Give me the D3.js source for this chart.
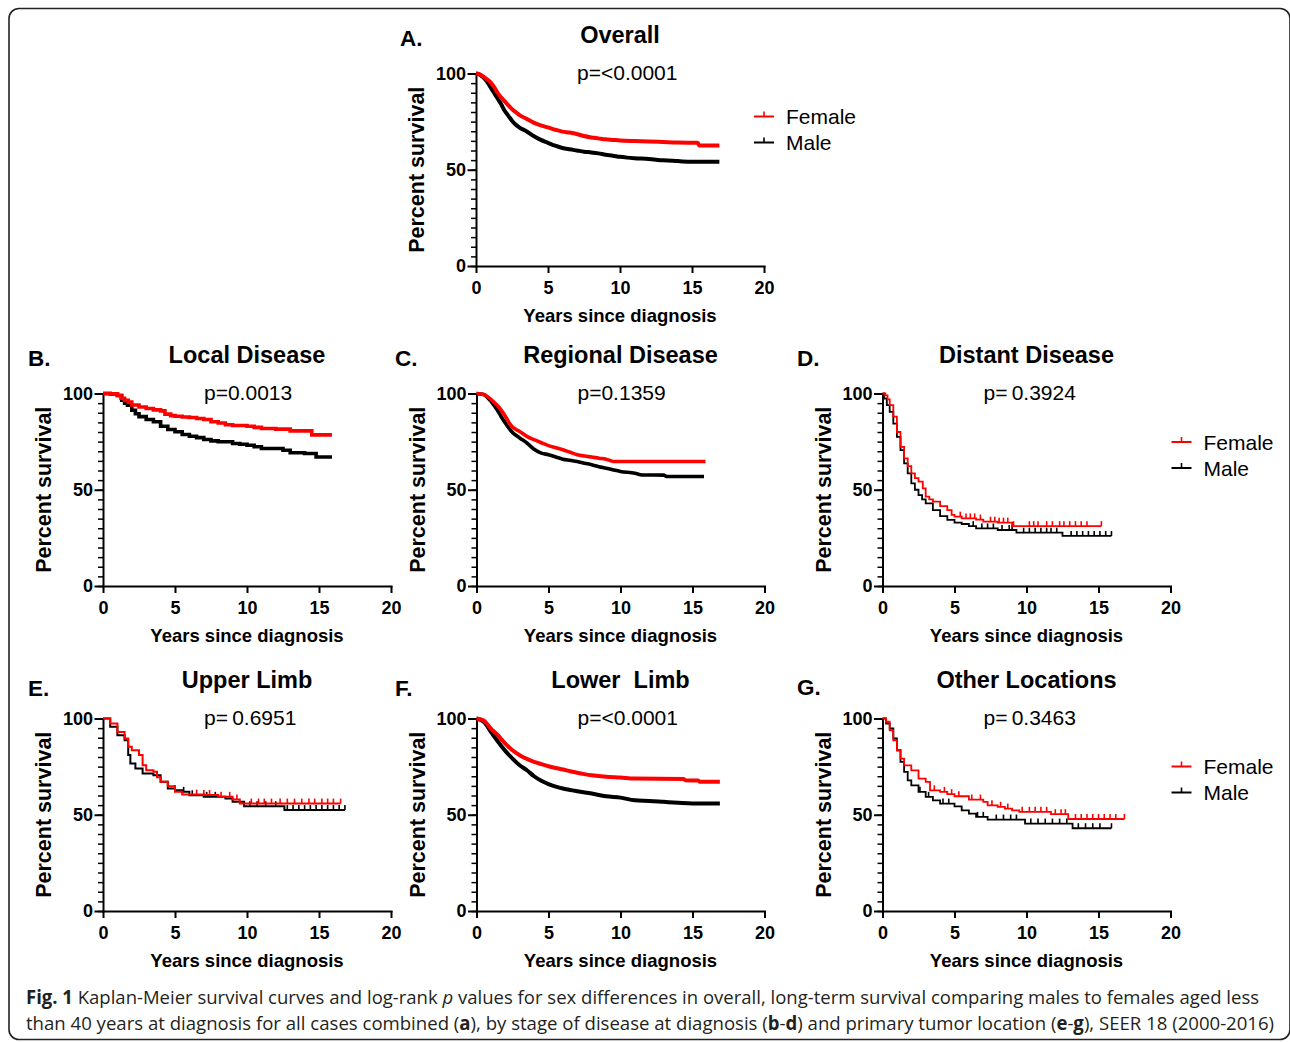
<!DOCTYPE html>
<meta charset="utf-8">
<style>
body{ margin:0; background:#fff; }
svg{ display:block; font-family:"Liberation Sans", Arial, Helvetica, sans-serif; }
.axis path, .axis line{ stroke:#000; stroke-width:2; }
.axis path{ stroke-linecap:square; }
.axis text{ font-weight:bold; font-size:18px; fill:#000; font-family:"Liberation Sans", Arial, sans-serif; }
.minor line{ stroke-width:1.5; }
</style>
<svg id="fig" width="1290" height="1042"></svg>
<script src="https://cdn.jsdelivr.net/npm/d3@7"></script>
<script>
var panelLetters = ['A.', 'B.', 'C.', 'D.', 'E.', 'F.', 'G.']
var panelTitles = ['Overall', 'Local Disease', 'Regional Disease', 'Distant Disease', 'Upper Limb', 'Lower  Limb', 'Other Locations']
var pValues = ['p=<0.0001', 'p=0.0013', 'p=0.1359', 'p=\u20090.3924', 'p=\u20090.6951', 'p=<0.0001', 'p=\u20090.3463']
var seriesNames = ['Female', 'Male']
var xTicks = [0, 5, 10, 15, 20]
var yTicks = [0, 50, 100]

// survival estimates: [years since diagnosis, percent surviving]
var overallFemale = [[0,100],[0.25,99.5],[0.5,98.5],[0.75,97],[1,95.5],[1.25,93],[1.5,90],[1.75,87.5],[2,85.5],[2.25,83.5],[2.5,81.5],[2.75,80],[3,78.5],[3.5,76.5],[4,74.5],[4.5,73],[5,72],[5.5,70.8],[6,69.8],[6.5,69.3],[7,68.6],[7.5,67.5],[8,66.8],[8.5,66.3],[9,65.8],[9.5,65.5],[10,65.2],[11,64.9],[12,64.7],[13,64.4],[14,64.1],[15.4,64],[15.5,62.6],[16.9,62.6]]
var overallMale = [[0,100],[0.25,99.5],[0.5,98],[0.75,96],[1,93],[1.25,90],[1.5,87],[1.75,84],[2,80.5],[2.25,78],[2.5,75.5],[2.75,73.5],[3,72],[3.5,70],[4,67.5],[4.5,65.5],[5,64],[5.5,62.5],[6,61.3],[6.5,60.6],[7,60],[7.5,59.4],[8,59],[8.5,58.5],[9,57.8],[9.5,57.3],[10,56.7],[10.5,56.3],[11,56],[12,55.6],[13,54.9],[14,54.5],[15,54.1],[16.9,54.1]]

var localFemale = [[0,100],[0.5,99.8],[1,99],[1.25,97.5],[1.5,96.5],[1.75,95.5],[2,94],[2.5,93],[3,92.2],[3.5,91.5],[4,91],[4.3,89.3],[4.7,88.5],[5,88.2],[5.5,87.8],[6,87.5],[6.5,87],[7,86.5],[7.5,85.3],[8,84.7],[8.5,83.8],[9,83.4],[10,83],[10.5,82.4],[11,81.8],[12,81.5],[13,80.6],[14.5,78.5],[15.9,78.5]]
var localMale = [[0,100],[0.5,99.8],[1,99],[1.3,96.5],[1.5,95],[1.7,93.9],[2,91.3],[2.25,89.5],[2.5,88],[3,86.5],[3.5,85.3],[4,83],[4.5,81.3],[5,80.1],[5.5,78.7],[6,77.8],[6.5,77.1],[7,76.1],[7.5,75.4],[8,74.9],[9,74],[9.5,73.6],[10,73.1],[10.5,72.3],[11,71.4],[12.5,70.5],[13,69.2],[14,68.8],[14.8,67],[15.9,67]]

var regionalFemale = [[0,100],[0.5,99.5],[0.75,98.5],[1,97],[1.25,95.2],[1.5,93.4],[1.75,91],[2,88.2],[2.25,85],[2.5,82.6],[3,80.3],[3.5,77.7],[4,76],[4.5,74.4],[5,72.9],[5.5,71.8],[6,70.8],[6.5,69.5],[7,68.2],[7.5,67.5],[8,67],[8.5,66.4],[9,65.9],[9.5,64.7],[15.9,64.7]]
var regionalMale = [[0,100],[0.5,99.5],[0.75,98],[1,96],[1.25,93.5],[1.5,90.8],[1.75,87.5],[2,84.7],[2.25,82],[2.5,79.8],[3,76.9],[3.5,74.3],[4,71],[4.5,69],[5,68.2],[5.5,67],[6,65.9],[6.5,65.3],[7,64.7],[7.5,63.8],[8,63],[8.5,62],[9,61.2],[9.5,60.3],[10,59.5],[11,58.6],[11.5,57.7],[13,57.6],[13.2,56.9],[15.8,56.9]]

var distantFemale = [[0,100],[0.2,99],[0.35,97],[0.5,94],[0.75,88],[1,80],[1.25,72.3],[1.5,66.3],[1.75,62.3],[2,58.5],[2.25,56],[2.5,54.2],[2.8,50.7],[3,46.4],[3.25,45],[3.5,43.8],[4,41.5],[4.5,39.4],[4.8,37],[5,36],[5.5,35.1],[6.5,34.5],[7,33.4],[8,32.9],[9,31.1],[15.2,31.1]]
var distantMale = [[0,100],[0.1,97.4],[0.3,94],[0.5,90.5],[0.75,84.4],[1,77.5],[1.25,70.6],[1.5,63.7],[1.75,58.5],[2,53.3],[2.25,50],[2.5,47.2],[2.75,45],[3,42.9],[3.5,39.4],[4,36.3],[4.5,34.3],[5,32.9],[5.5,32.2],[6,31.1],[6.5,29.9],[8,29.1],[9.3,27.7],[12.5,26],[15.9,26]]
var distantFemaleCensor = [5.4,5.8,6.1,6.4,6.8,7.5,7.8,8.1,8.4,8.7,9.1,10.2,10.5,10.8,11.4,11.8,12.3,12.6,13.0,13.4,13.8,14.2,15.2]
var distantMaleCensor = [6.3,6.9,7.3,7.7,8.3,8.8,9.0,9.8,10.2,10.6,11.0,11.4,11.7,12.1,13.1,13.5,13.9,14.3,14.7,15.1,15.5,15.9]

var upperFemale = [[0,100],[0.5,97.4],[1,93],[1.5,89.6],[1.75,85.3],[2,83.5],[2.5,81],[2.75,75.7],[3,73.1],[3.5,72.3],[3.75,69.5],[4,67.1],[4.5,64.8],[5,61.9],[5.5,60.5],[7,60.3],[8,59.3],[9,57.9],[9.5,55.8],[16.5,55.8]]
var upperMale = [[0,100],[0.5,95.7],[1,91.3],[1.5,88.7],[1.75,81],[1.9,76.6],[2.25,74],[2.75,71.4],[3.5,70.5],[4,67.1],[4.5,63.7],[5,62.7],[5.5,61.9],[6,60.1],[7,59.3],[8.5,58.4],[9,56.7],[9.8,54.4],[12.6,52.5],[16.8,52.5]]
var upperFemaleCensor = [6.5,7.0,7.4,8.2,8.8,9.3,10.3,10.8,11.2,11.7,12.3,12.8,13.3,13.8,14.3,14.7,15.2,15.6,16.0,16.5]
var upperMaleCensor = [5.0,5.6,6.2,7.2,7.8,10.2,10.7,11.3,12.0,12.8,13.2,13.6,14.0,14.4,14.8,15.2,15.6,16.0,16.4,16.8]

var lowerFemale = [[0,100],[0.5,99],[0.75,97],[1,94.8],[1.25,93],[1.5,91.3],[1.75,89],[2,87],[2.5,83.5],[3,80.9],[3.5,79],[4,77.5],[4.5,76.3],[5,75.2],[5.5,74.3],[6,73.5],[6.5,72.6],[7,71.8],[7.5,71.1],[8,70.5],[9,69.7],[10,69.3],[11,68.8],[14.4,68.6],[14.5,67.9],[15.4,67.8],[15.5,67.1],[16.9,67.1]]
var lowerMale = [[0,100],[0.5,98.3],[0.75,96],[1,93],[1.25,90.5],[1.5,87.9],[1.75,85.5],[2,83.2],[2.5,79.2],[3,75.7],[3.5,73.1],[4,70],[4.5,67.6],[5,65.9],[5.5,64.6],[6,63.6],[6.5,62.9],[7,62.2],[8,61],[9,59.6],[10,58.9],[11,57.5],[12,57.2],[13,56.7],[14,56.2],[15,55.8],[16.9,55.8]]

var otherFemale = [[0,100],[0.25,98.3],[0.5,93.9],[0.75,88.7],[1,83.5],[1.25,79.2],[1.5,75.7],[2,73.1],[2.5,68.8],[3,67.1],[3.3,62.7],[4,61.9],[4.5,60.7],[5,59.6],[6,57.9],[7,56.7],[7.3,54.9],[8,54.1],[8.5,53.2],[9,52.3],[9.5,51.5],[11.7,50.3],[12.9,47.8],[16.8,47.8]]
var otherMale = [[0,100],[0.25,97.4],[0.5,94.8],[0.75,89.6],[1,83.5],[1.25,77.5],[1.5,72.3],[1.75,67.9],[2,65.3],[2.5,61.9],[3,59.3],[3.5,57.5],[4,55.8],[5,54.4],[5.5,52.3],[6,50.6],[6.5,48.9],[7.3,47.5],[9.9,45.4],[13.2,43],[15.9,43]]
var otherFemaleCensor = [3.6,4.3,4.8,5.3,6.2,6.8,7.6,8.2,8.7,9.7,10.2,10.6,11.0,11.4,12.0,12.4,12.7,13.4,13.8,14.2,14.6,15.0,15.4,15.8,16.2,16.8]
var otherMaleCensor = [2.6,3.2,4.2,4.6,6.6,7.0,7.9,8.4,8.9,9.3,10.3,10.8,11.3,11.8,12.3,12.8,13.6,14.1,14.6,15.1,15.9]

var captionLine1 = [['Fig. 1', 'b'], [' Kaplan-Meier survival curves and log-rank ', ''], ['p', 'i'], [' values for sex differences in overall, long-term survival comparing males to females aged less', '']]
var captionLine2 = [['than 40 years at diagnosis for all cases combined (', ''], ['a', 'b'], ['), by stage of disease at diagnosis (', ''], ['b', 'b'], ['-', ''], ['d', 'b'], [') and primary tumor location (', ''], ['e', 'b'], ['-', ''], ['g', 'b'], ['), SEER 18 (2000-2016)', '']]

var curves = [
  [overallFemale, overallMale, null, null],
  [localFemale, localMale, null, null],
  [regionalFemale, regionalMale, null, null],
  [distantFemale, distantMale, distantFemaleCensor, distantMaleCensor],
  [upperFemale, upperMale, upperFemaleCensor, upperMaleCensor],
  [lowerFemale, lowerMale, null, null],
  [otherFemale, otherMale, otherFemaleCensor, otherMaleCensor]
]

// placement of each panel (plot origin = top-left of plotting area)
// dense curves (thousands of patients) read as smooth lines, small groups as steps
var layout = [
  {x: 476,   y: 73.5,  lx: 400, ly: -28, legend: {dx: 278, dy: 43},   lw: 4,   step: false},
  {x: 103,   y: 393.5, lx: 28,  ly: -28, legend: null,                lw: 3.6, step: true},
  {x: 476.5, y: 393.5, lx: 395, ly: -28, legend: null,                lw: 3.6, step: false},
  {x: 882.5, y: 393.5, lx: 797, ly: -28, legend: {dx: 289, dy: 48.5}, lw: 1.8, step: true},
  {x: 103,   y: 718.5, lx: 28,  ly: -23, legend: null,                lw: 2,   step: true},
  {x: 476.5, y: 718.5, lx: 395, ly: -23, legend: null,                lw: 4,   step: false},
  {x: 882.5, y: 718.5, lx: 797, ly: -24, legend: {dx: 289, dy: 48},   lw: 1.8, step: true}
]
var colors = ['#ff0000', '#000000']
var W = 288, H = 192.5

var svg = d3.select('#fig')

svg.append('rect')
    .attr('x', 9).attr('y', 8.5).attr('width', 1281).attr('height', 1031)
    .attr('rx', 10)
    .style('fill', 'none').style('stroke', '#222').style('stroke-width', 1.6)

var x = d3.scaleLinear().domain([0, 20]).range([0, W])
var y = d3.scaleLinear().domain([0, 100]).range([H, 0])
var stepLine = d3.line()
    .x(function(d){ return x(d[0]) })
    .y(function(d){ return y(d[1]) })
    .curve(d3.curveStepAfter)
var smoothLine = d3.line()
    .x(function(d){ return x(d[0]) })
    .y(function(d){ return y(d[1]) })
    .curve(d3.curveMonotoneX)
var bis = d3.bisector(function(d){ return d[0] }).right

function valueAt(data, t){
  return data[Math.max(0, bis(data, t) - 1)][1]
}

layout.forEach(function(L, i){
  var g = svg.append('g').attr('transform', 'translate(' + L.x + ',' + L.y + ')')

  g.append('text')
      .attr('x', L.lx - L.x).attr('y', L.ly)
      .style('font-size', '22.5px').style('font-weight', 'bold')
      .text(panelLetters[i])

  g.append('text')
      .attr('x', W / 2).attr('y', -31)
      .attr('text-anchor', 'middle')
      .style('font-size', '23.5px').style('font-weight', 'bold')
      .style('white-space', 'pre')
      .text(panelTitles[i])

  g.append('text')
      .attr('x', 101).attr('y', 6)
      .style('font-size', '21px')
      .text(pValues[i])

  // minor y ticks
  g.append('g').attr('class', 'axis minor')
      .call(d3.axisLeft(y).tickValues(d3.range(0, 101, 5)).tickSize(5).tickSizeOuter(0).tickFormat(''))
      .select('.domain').remove()

  g.append('g').attr('class', 'axis')
      .call(d3.axisLeft(y).tickValues(yTicks).tickSize(8.5).tickSizeOuter(0).tickPadding(1.5))

  g.append('g').attr('class', 'axis')
      .attr('transform', 'translate(0,' + H + ')')
      .call(d3.axisBottom(x).tickValues(xTicks).tickSize(7).tickSizeOuter(0).tickPadding(8.5))

  g.append('text')
      .attr('transform', 'translate(-52,' + (H / 2) + ') rotate(-90)')
      .attr('text-anchor', 'middle')
      .style('font-size', '21.5px').style('font-weight', 'bold')
      .text('Percent survival')

  g.append('text')
      .attr('x', W / 2).attr('y', H + 56)
      .attr('text-anchor', 'middle')
      .style('font-size', '18.5px').style('font-weight', 'bold')
      .text('Years since diagnosis')

  var c = curves[i]
  var line = L.step ? stepLine : smoothLine
  // male underneath, female on top
  ;[1, 0].forEach(function(k){
    g.append('path')
        .attr('d', line(c[k]))
        .style('fill', 'none')
        .style('stroke', colors[k])
        .style('stroke-width', L.lw)

    var cens = c[k + 2]
    if (cens) {
      g.selectAll(null).data(cens).enter().append('line')
          .attr('x1', function(t){ return x(t) }).attr('x2', function(t){ return x(t) })
          .attr('y1', function(t){ return y(valueAt(c[k], t)) })
          .attr('y2', function(t){ return y(valueAt(c[k], t)) - 5 })
          .style('stroke', colors[k]).style('stroke-width', 1.6)
    }
  })

  if (L.legend) {
    var lg = g.append('g').attr('transform', 'translate(' + L.legend.dx + ',' + L.legend.dy + ')')
    seriesNames.forEach(function(name, k){
      var row = lg.append('g').attr('transform', 'translate(0,' + (k * 26) + ')')
      row.append('line').attr('x1', 0).attr('x2', 20).attr('y1', 0).attr('y2', 0)
          .style('stroke', colors[k]).style('stroke-width', 2)
      row.append('line').attr('x1', 10).attr('x2', 10).attr('y1', 0).attr('y2', -5)
          .style('stroke', colors[k]).style('stroke-width', 1.6)
      row.append('text').attr('x', 32).attr('y', 7.5)
          .style('font-size', '21px')
          .text(name)
    })
  }
})

// caption: squeezed horizontally to the figure's line width
function caption(parts, yPos, len){
  var t = svg.append('text')
      .style('white-space', 'pre')
      .style('font-family', '"Open Sans", sans-serif')
      .style('font-size', '19px')
      .style('fill', '#231f20')
  parts.forEach(function(p){
    t.append('tspan')
        .style('font-weight', p[1] == 'b' ? 'bold' : 'normal')
        .style('font-style', p[1] == 'i' ? 'italic' : 'normal')
        .text(p[0])
  })
  var sx = len / t.node().getComputedTextLength()
  t.attr('transform', 'translate(26,' + yPos + ') scale(' + sx + ',1)')
}
caption(captionLine1, 1004, 1234)
caption(captionLine2, 1030, 1249)
</script>
